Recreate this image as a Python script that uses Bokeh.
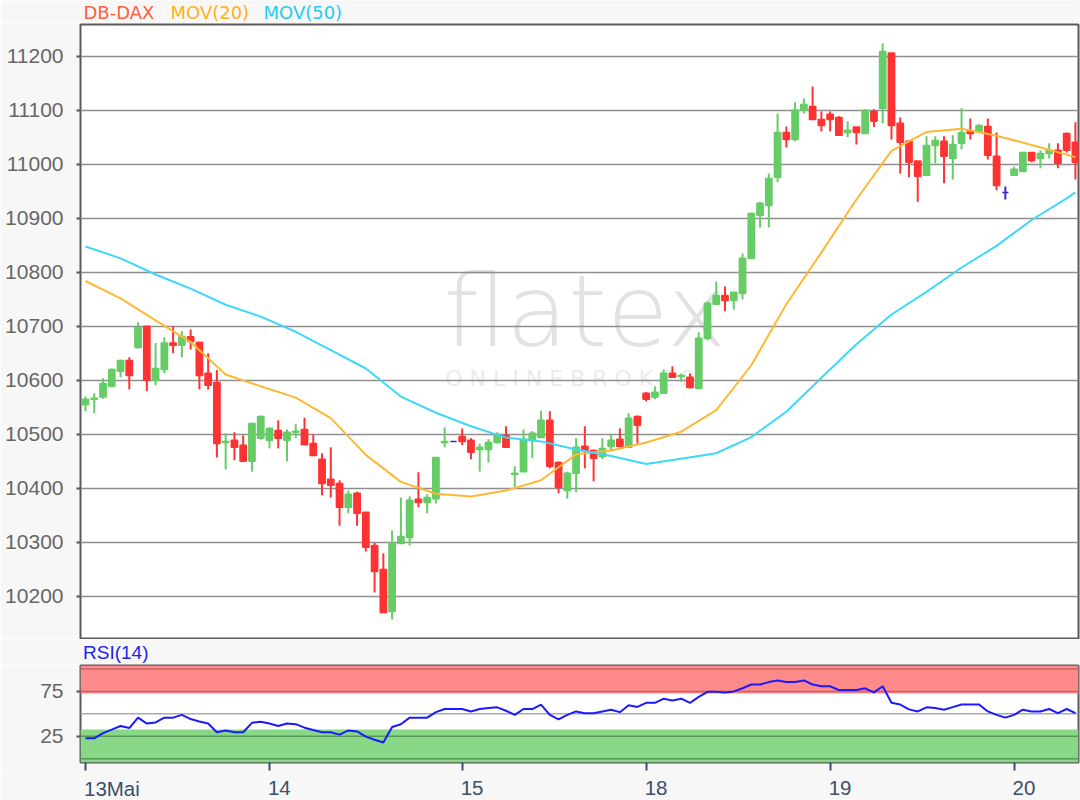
from bokeh.plotting import figure
from bokeh.layouts import column
from bokeh.models import Range1d, FixedTicker, Label, BoxAnnotation, Span, ColumnDataSource
from bokeh.core.properties import value
from bokeh.embed import file_html
from bokeh.resources import INLINE

# ---------------- data ----------------
opens = [10555, 10565, 10569, 10589, 10617, 10637, 10661, 10700, 10600, 10620,
         10669, 10665, 10681, 10670, 10613, 10596, 10485, 10489, 10480, 10450,
         10493, 10489, 10507, 10489, 10504, 10509, 10483, 10454, 10417, 10409,
         10365, 10391, 10356, 10294, 10250, 10172, 10298, 10309, 10380, 10374,
         10381,
         10485, 10487, 10496, 10489, 10472, 10472, 10485, 10498, 10426, 10431,
         10489, 10494, 10526, 10448, 10396, 10428, 10478, 10470, 10459, 10478,
         10491, 10476, 10533,
         10576, 10569, 10576, 10613, 10607, 10606, 10585, 10678, 10741, 10757,
         10748, 10761, 10826, 10906, 10924, 10976, 11059, 11046, 11100, 11107,
         11083, 11093, 11087, 11059, 11069, 11057, 11098, 11104, 11206, 11076,
         11043, 11006, 10980, 11035, 11043, 11011, 11039, 11061, 11061, 11070,
         11015,
         10948, 10980, 10987, 11022, 11011, 11020, 11026, 11057, 11041]
highs = [10570, 10576, 10604, 10622, 10638, 10643, 10707, 10700, 10669, 10680,
         10700, 10691, 10694, 10672, 10650, 10619, 10502, 10504, 10498, 10520,
         10535, 10513, 10526, 10509, 10519, 10531, 10500, 10465, 10476, 10415,
         10396, 10394, 10356, 10300, 10280, 10322, 10383, 10385, 10430, 10389,
         10457,
         10513, 10487, 10511, 10493, 10483, 10491, 10504, 10515, 10441, 10509,
         10506, 10544, 10543, 10450, 10431, 10493, 10515, 10472, 10493, 10500,
         10511, 10539, 10535,
         10578, 10589, 10620, 10626, 10613, 10613, 10689, 10746, 10783, 10774,
         10763, 10835, 10911, 10931, 10983, 11094, 11070, 11115, 11122, 11144,
         11098, 11098, 11089, 11080, 11069, 11102, 11102, 11224, 11206, 11087,
         11045, 11006, 11052, 11052, 11052, 11054, 11104, 11085, 11074, 11085,
         11059,
         10959, 10996, 11022, 11022, 11026, 11039, 11039, 11059, 11078]
lows = [10543, 10539, 10566, 10587, 10606, 10583, 10659, 10580, 10591, 10613,
        10650, 10643, 10657, 10583, 10583, 10457, 10435, 10452, 10450, 10431,
        10490, 10474, 10474, 10450, 10493, 10481, 10461, 10387, 10383, 10331,
        10354, 10331, 10283, 10207, 10169, 10157, 10298, 10294, 10365, 10354,
        10372,
        10476, 10487, 10480, 10454, 10431, 10448, 10483, 10476, 10402, 10431,
        10456, 10494, 10437, 10391, 10381, 10393, 10437, 10413, 10454, 10470,
        10476, 10476, 10483,
        10561, 10565, 10576, 10606, 10598, 10585, 10585, 10674, 10741, 10728,
        10731, 10750, 10826, 10883, 10883, 10967, 11031, 11043, 11094, 11083,
        11061, 11061, 11054, 11050, 11037, 11057, 11069, 11076, 11046, 10983,
        10976, 10931, 10980, 11002, 10965, 10972, 11028, 11046, 11059, 11009,
        10952,
        10935, 10980, 10987, 11004, 10993, 11011, 10993, 11022, 10972]
closes = [10565, 10567, 10594, 10620, 10637, 10609, 10698, 10600, 10622, 10669,
          10665, 10681, 10672, 10609, 10591, 10483, 10487, 10476, 10450, 10520,
          10533, 10511, 10493, 10504, 10506, 10481, 10461, 10409, 10406, 10365,
          10389, 10354, 10291, 10246, 10170, 10298, 10311, 10378, 10374, 10383,
          10457,
          10487, 10487, 10487, 10467, 10476, 10485, 10498, 10476, 10428, 10491,
          10502, 10526, 10441, 10402, 10428, 10476, 10470, 10456, 10474, 10489,
          10478, 10530, 10517,
          10565, 10578, 10613, 10606, 10609, 10587, 10678, 10743, 10757, 10748,
          10763, 10826, 10909, 10928, 10974, 11059, 11046, 11100, 11111, 11083,
          11072, 11083, 11054, 11063, 11059, 11100, 11080, 11209, 11072, 11041,
          11004, 10978, 11035, 11044, 11015, 11037, 11059, 11057, 11072, 11017,
          10961,
          10948, 10991, 11022, 11007, 11020, 11026, 11002, 11026, 11004]

ma_idx = [0, 4, 8, 12, 16, 20, 24, 28, 32, 36, 40, 44, 48, 52, 56, 60, 64,
          68, 72, 76, 80, 84, 88, 92, 96, 100, 104, 108, 112, 113]
ma20 = [10784, 10752, 10711, 10671, 10611, 10589, 10568, 10530, 10462, 10412,
        10390, 10385, 10396, 10415, 10463, 10470, 10485, 10505, 10545, 10628,
        10741, 10837, 10935, 11025, 11060, 11066, 11053, 11036, 11018, 11013]
ma50 = [10848, 10826, 10796, 10770, 10740, 10718, 10690, 10656, 10622, 10570,
        10540, 10515, 10494, 10487, 10472, 10460, 10445, 10455, 10465, 10495,
        10542, 10605, 10667, 10722, 10764, 10809, 10849, 10897, 10937, 10948]

rsi = [22.7, 22.7, 28.5, 32.5, 36.5, 34.2, 45.8, 39.2, 40.4, 45.8,
       45.8, 48.9, 44.2, 41.5, 39.2, 29.5, 31.5, 29.5, 29.5, 40.0,
       41.2, 39.2, 36.5, 39.2, 38.5, 34.6, 32.0, 29.5, 29.5, 26.9,
       31.5, 30.4, 24.6, 21.2, 18.1, 35.4, 38.5, 45.8, 45.8, 45.8,
       51.9, 55.4, 55.4, 55.4, 52.7, 55.4, 56.5, 57.3, 53.5, 48.9,
       55.4, 55.4, 60.4, 48.9, 43.9, 48.9, 52.7, 50.8, 50.8, 52.7,
       54.6, 51.9, 59.6, 57.7, 62.3, 62.3, 66.9, 65.0, 66.9, 62.3,
       68.9, 74.6, 74.6, 73.9, 75.0, 78.5, 82.7, 82.7, 85.4, 87.3,
       85.4, 85.4, 87.3, 82.7, 80.8, 80.8, 76.5, 76.5, 76.5, 78.5,
       73.9, 80.8, 62.3, 60.4, 55.0, 52.7, 57.3, 56.5, 54.6, 57.5,
       60.4, 60.4, 60.4, 52.7, 48.9, 45.8, 48.9, 54.6, 52.7, 52.7,
       55.4, 50.8, 55.4, 50.8]

day_ticks = [0, 21, 43, 64, 85, 106]
day_labels = ["13Mai", "14", "15", "18", "19", "20"]
price_ticks = [10200, 10300, 10400, 10500, 10600, 10700, 10800, 10900, 11000, 11100, 11200]
rsi_ticks = [25, 75]
title_parts = ["DB-DAX", "MOV(20)", "MOV(50)"]

# ---------------- styling ----------------
GREEN = "#66cc66"
RED = "#ff3333"
DOJI = "#4422cc"
BG = "#f7f7f7"
W = 1080
LB, RB = 80, 2          # frame borders (left/right) shared by all strips

idx = list(range(len(opens)))
colors = [GREEN if c > o else (RED if c < o else DOJI) for o, c in zip(opens, closes)]
src = ColumnDataSource(dict(
    x=idx, o=opens, h=highs, l=lows, c=closes,
    top=[max(o, c) for o, c in zip(opens, closes)],
    bottom=[min(o, c) for o, c in zip(opens, closes)],
    color=colors))

xr = Range1d(-0.57, 113.35)


def strip(height):
    f = figure(width=W, height=height, x_range=xr, y_range=Range1d(0, height),
               output_backend="svg", toolbar_location=None,
               x_axis_location=None, y_axis_location=None,
               min_border_left=LB, min_border_right=RB, min_border_top=0, min_border_bottom=0,
               background_fill_color=BG, border_fill_color=BG)
    f.outline_line_color = None
    f.xgrid.visible = False
    f.ygrid.visible = False
    return f


def style_y(ax, ticks):
    ax.ticker = FixedTicker(ticks=ticks)
    ax.axis_line_color = None
    ax.major_tick_line_color = "#555555"
    ax.major_tick_line_width = 2
    ax.major_tick_out = 4
    ax.major_tick_in = 0
    ax.minor_tick_line_color = None
    ax.major_label_text_font = "Liberation Sans"
    ax.major_label_text_font_size = "21px"
    ax.major_label_text_color = "#666666"
    ax.major_label_standoff = 13


# ---------------- title strip ----------------
ts = strip(23)
for txt, xo, col in zip(title_parts, [3, 90, 183], ["#ff6040", "#ffb020", "#22ccf0"]):
    ts.text(x=[xr.start], y=[10.8], text=[txt], x_offset=xo,
            text_font=value("DejaVu Sans"), text_font_size=value("18px"), text_color=col,
            text_baseline="middle", text_align="left")

# ---------------- main panel ----------------
p = figure(width=W, height=616, x_range=xr, y_range=Range1d(10122, 11259),
           output_backend="svg", toolbar_location=None, x_axis_location=None,
           min_border_left=LB, min_border_right=RB, min_border_top=1, min_border_bottom=1,
           background_fill_color="white", border_fill_color=BG)
p.outline_line_color = "#5a5a5a"
p.outline_line_width = 2
p.xgrid.visible = False
p.ygrid.ticker = FixedTicker(ticks=price_ticks)
p.ygrid.grid_line_color = "#8f8f8f"
p.ygrid.grid_line_width = 1.6
style_y(p.yaxis[0], price_ticks)

# watermark
p.add_layout(Label(x=57, y=10728, text="flatex", text_align="center", text_baseline="middle",
                   text_font="DejaVu Sans", text_font_size="100px", text_color="#e2e2e2",
                   level="image"))
p.add_layout(Label(x=57, y=10604, text="O N L I N E     B R O K E R", text_align="center",
                   text_baseline="middle", text_font="DejaVu Sans", text_font_size="22px",
                   text_color="#ebebeb", level="image"))

p.segment(x0="x", y0="l", x1="x", y1="h", line_color="color", line_width=2, source=src)
p.vbar(x="x", width=0.72, top="top", bottom="bottom", fill_color="color",
       line_color="color", line_width=1.5, source=src)
p.line(ma_idx, ma20, line_color="#ffb833", line_width=2)
p.line(ma_idx, ma50, line_color="#3dd8f8", line_width=2)

# ---------------- RSI label strip ----------------
ls = strip(25)
ls.text(x=[xr.start], y=[11.8], text=["RSI(14)"], x_offset=2.5,
        text_font=value("Liberation Sans"), text_font_size=value("19px"), text_color="#2222ee",
        text_baseline="middle", text_align="left")

# ---------------- RSI panel ----------------
r = figure(width=W, height=108, x_range=xr, y_range=Range1d(-4.2, 103.9),
           output_backend="svg", toolbar_location=None,
           min_border_left=LB, min_border_right=RB, min_border_top=1, min_border_bottom=10,
           background_fill_color="white", border_fill_color=BG)
r.outline_line_color = "#5a5a5a"
r.outline_line_width = 2
r.xgrid.visible = False
r.ygrid.visible = False

r.add_layout(BoxAnnotation(bottom=72.7, fill_color="#ff8a8a", fill_alpha=1, line_color=None, level="underlay"))
r.add_layout(BoxAnnotation(top=32.7, fill_color="#88d888", fill_alpha=1, line_color=None, level="underlay"))
for loc, col in [(100, "#c86060"), (75, "#c86060"), (25, "#559955"), (0, "#559955"), (50, "#aaaaaa")]:
    r.add_layout(Span(location=loc, dimension="width", line_color=col, line_width=1.5, level="underlay"))

r.line(idx, rsi, line_color="#1a1aff", line_width=2)

style_y(r.yaxis[0], rsi_ticks)

rx = r.xaxis[0]
rx.ticker = FixedTicker(ticks=day_ticks)
rx.major_label_overrides = {t: "" for t in day_ticks}
rx.axis_line_color = None
rx.major_tick_line_color = "#3a5068"
rx.major_tick_line_width = 2
rx.major_tick_out = 8
rx.major_tick_in = 0
rx.minor_tick_line_color = None
rx.major_label_text_font_size = "1px"
rx.major_label_standoff = 0

# ---------------- date label strip ----------------
ds = strip(28)
ds.text(x=day_ticks, y=[12.2] * len(day_ticks), text=day_labels, x_offset=-1.5,
        text_font=value("Liberation Sans"), text_font_size=value("20.5px"), text_color="#3a5068",
        text_baseline="middle", text_align="left")

layout = column(ts, p, ls, r, ds, spacing=0)
open("out.html", "w").write(file_html(layout, INLINE))
